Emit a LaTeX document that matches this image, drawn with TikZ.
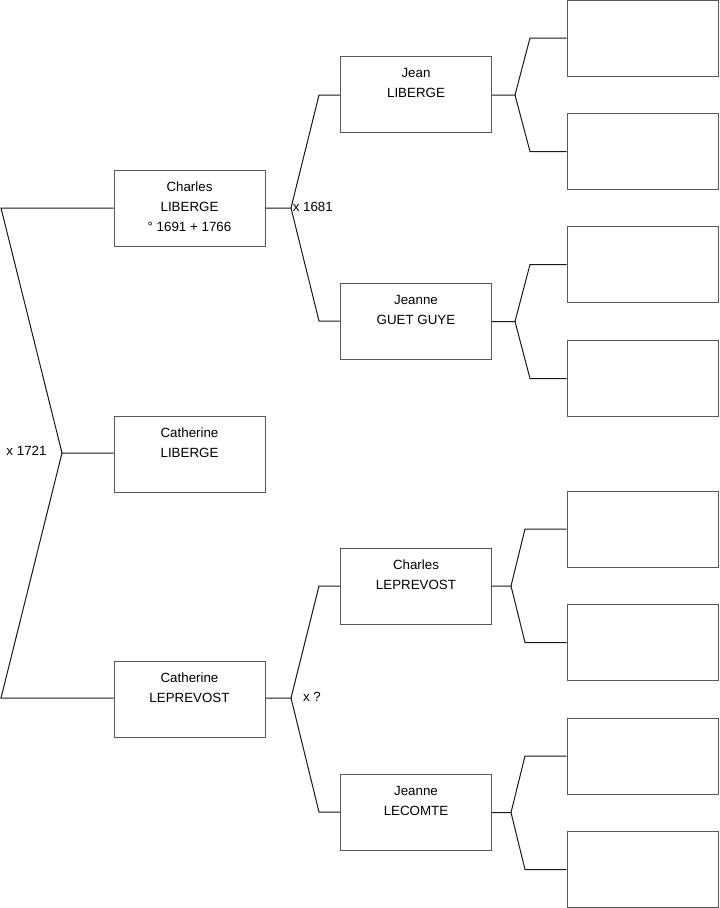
\documentclass[tikz,border=0pt]{standalone}
\usepackage{fontspec}
\setmainfont{Liberation Sans}
\begin{document}
\begin{tikzpicture}[x=0.75pt,y=-0.75pt,
  box/.style={draw=black!65, line width=0.75pt, fill=white, inner sep=0pt,
    minimum width=113.25pt, minimum height=57pt},
  conn/.style={draw=black!90, line width=0.75pt, line join=miter},
  note/.style={font=\fontsize{10}{12}\selectfont, inner sep=0pt}]
\useasboundingbox (0,0) rectangle (719,908);
\fill[white] (0,0) rectangle (719,908);
\newcommand{\pbox}[3]{\node[box, label={[anchor=north, yshift=-8.9pt, inner sep=0pt, align=center, font=\fontsize{10}{15}\selectfont]north:#3}] (#1) at #2 {};}
% generation 1
\pbox{cl}{(189.5,208)}{Charles\\LIBERGE\\° 1691 + 1766}
\pbox{cat}{(189.5,454)}{Catherine\\LIBERGE}
\pbox{clep}{(189.5,699)}{Catherine\\LEPREVOST}
% generation 2
\pbox{jean}{(416,94.5)}{Jean\\LIBERGE}
\pbox{jeanne}{(416,321.5)}{Jeanne\\GUET GUYE}
\pbox{chlep}{(416,586)}{Charles\\LEPREVOST}
\pbox{lec}{(416,812.5)}{Jeanne\\LECOMTE}
% generation 3 (empty)
\node[box] (r1) at (642.5,38) {};
\node[box] (r2) at (642.5,151.5) {};
\node[box] (r3) at (642.5,264.5) {};
\node[box] (r4) at (642.5,378.5) {};
\node[box] (r5) at (642.5,529) {};
\node[box] (r6) at (642.5,642.5) {};
\node[box] (r7) at (642.5,756) {};
\node[box] (r8) at (642.5,869.5) {};
% left bracket
\coordinate (lt) at (1,208);
\coordinate (lm) at (62,453);
\coordinate (lb) at (1,698);
\draw[conn] (cl.west |- lt) -- (lt) -- (lm) -- (lm -| cat.west);
\draw[conn] (lm) -- (lb) -- (lb -| clep.west);
\node[note] (m1721) at (26.5,451) {x 1721};
% fork Charles LIBERGE
\coordinate (f1) at (291,208);
\coordinate (f1t) at (319,95);
\coordinate (f1b) at (319,321);
\draw[conn] (cl.east |- f1) -- (f1) -- (f1t) -- (f1t -| jean.west);
\draw[conn] (f1) -- (f1b) -- (f1b -| jeanne.west);
\node[note, anchor=west] (m1681) at (292.5,207) {x 1681};
% fork Catherine LEPREVOST
\coordinate (f2) at (291,698);
\coordinate (f2t) at (319,586);
\coordinate (f2b) at (319,812);
\draw[conn] (clep.east |- f2) -- (f2) -- (f2t) -- (f2t -| chlep.west);
\draw[conn] (f2) -- (f2b) -- (f2b -| lec.west);
\node[note] (mq) at (312,697) {x ?};
% fork Jean
\coordinate (g1) at (515,95);
\coordinate (g1t) at (530,38);
\coordinate (g1b) at (530,151.5);
\draw[conn] (jean.east |- g1) -- (g1) -- (g1t) -- (g1t -| r1.west);
\draw[conn] (g1) -- (g1b) -- (g1b -| r2.west);
% fork Jeanne GUET GUYE
\coordinate (g2) at (515,321.5);
\coordinate (g2t) at (530,264.5);
\coordinate (g2b) at (530,378.5);
\draw[conn] (jeanne.east |- g2) -- (g2) -- (g2t) -- (g2t -| r3.west);
\draw[conn] (g2) -- (g2b) -- (g2b -| r4.west);
% fork Charles LEPREVOST
\coordinate (g3) at (511,586);
\coordinate (g3t) at (525,529);
\coordinate (g3b) at (525,642.5);
\draw[conn] (chlep.east |- g3) -- (g3) -- (g3t) -- (g3t -| r5.west);
\draw[conn] (g3) -- (g3b) -- (g3b -| r6.west);
% fork Jeanne LECOMTE
\coordinate (g4) at (511,812.5);
\coordinate (g4t) at (525,756);
\coordinate (g4b) at (525,869.5);
\draw[conn] (lec.east |- g4) -- (g4) -- (g4t) -- (g4t -| r7.west);
\draw[conn] (g4) -- (g4b) -- (g4b -| r8.west);
\end{tikzpicture}
\end{document}
